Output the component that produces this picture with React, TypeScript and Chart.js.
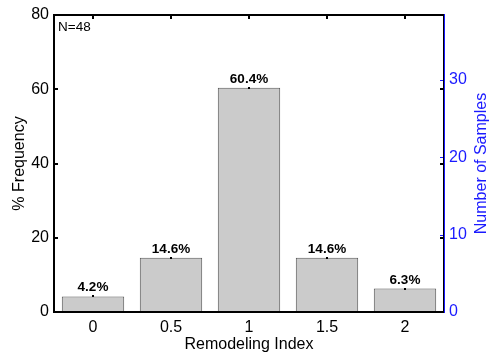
import React, { useEffect, useRef } from "react";
import { Chart, registerables } from "chart.js";

Chart.register(...registerables);

const categories = ["0", "0.5", "1", "1.5", "2"];
const percentValues = [4.2, 14.6, 60.4, 14.6, 6.3];
const barLabels = ["4.2%", "14.6%", "60.4%", "14.6%", "6.3%"];
const leftTicks = [0, 20, 40, 60, 80];
const rightTicks = [0, 10, 20, 30];
const rightMax = 38.4; // 80% of N=48
const sampleNote = "N=48";

const FONT = "Arial, 'Liberation Sans', sans-serif";
const BLUE = "#1a1aff";

const decorPlugin = {
  id: "decor",
  beforeDatasetsDraw(chart: any) {
    const { ctx, chartArea } = chart;
    const x = chart.scales.x;
    ctx.save();
    ctx.strokeStyle = "#000";
    ctx.lineWidth = 1;
    categories.forEach((_, i) => {
      const px = Math.round(x.getPixelForValue(i)) + 0.5;
      ctx.beginPath();
      ctx.moveTo(px, chartArea.bottom);
      ctx.lineTo(px, chartArea.bottom - 4);
      ctx.stroke();
    });
    ctx.restore();
  },
  afterDatasetsDraw(chart: any) {
    const { ctx, chartArea } = chart;
    const { left, right, top, bottom } = chartArea;
    const x = chart.scales.x;
    const y = chart.scales.y;
    const y2 = chart.scales.y2;
    ctx.save();
    // bar labels and center dots
    const meta = chart.getDatasetMeta(0);
    ctx.font = `bold 13.5px ${FONT}`;
    ctx.fillStyle = "#000";
    ctx.textAlign = "center";
    ctx.textBaseline = "bottom";
    meta.data.forEach((bar: any, i: number) => {
      ctx.fillRect(Math.round(bar.x) - 1, Math.round(bar.y) - 1, 2, 2);
      ctx.fillText(barLabels[i], bar.x, bar.y - 2);
    });
    // ticks
    ctx.lineWidth = 2;
    ctx.strokeStyle = "#000";
    leftTicks.forEach((v) => {
      const py = Math.round(y.getPixelForValue(v));
      ctx.beginPath();
      ctx.moveTo(left, py);
      ctx.lineTo(left + 4, py);
      ctx.moveTo(right, py);
      ctx.lineTo(right - 4, py);
      ctx.stroke();
    });
    categories.forEach((_, i) => {
      const px = Math.round(x.getPixelForValue(i));
      ctx.beginPath();
      ctx.moveTo(px, top);
      ctx.lineTo(px, top + 4);
      ctx.stroke();
    });
    ctx.strokeStyle = BLUE;
    ctx.lineWidth = 1;
    rightTicks.forEach((v) => {
      const py = Math.round(y2.getPixelForValue(v)) + 0.5;
      ctx.beginPath();
      ctx.moveTo(right, py);
      ctx.lineTo(right - 4, py);
      ctx.stroke();
    });
    // box
    ctx.strokeStyle = "#000";
    ctx.lineWidth = 2;
    ctx.beginPath();
    ctx.moveTo(right - 1, top);
    ctx.lineTo(left, top);
    ctx.lineTo(left, bottom);
    ctx.lineTo(right - 1, bottom);
    ctx.stroke();
    ctx.lineWidth = 1;
    ctx.beginPath();
    ctx.moveTo(right - 0.5, top - 1);
    ctx.lineTo(right - 0.5, bottom + 1);
    ctx.stroke();
    ctx.strokeStyle = BLUE;
    ctx.beginPath();
    ctx.moveTo(right + 0.5, top - 1);
    ctx.lineTo(right + 0.5, bottom + 1);
    ctx.stroke();
    // N note
    ctx.font = `13.5px ${FONT}`;
    ctx.fillStyle = "#000";
    ctx.textAlign = "left";
    ctx.textBaseline = "middle";
    ctx.fillText(sampleNote, left + 4, top + 12);
    // right title
    ctx.font = `16px ${FONT}`;
    ctx.fillStyle = BLUE;
    ctx.textAlign = "center";
    ctx.translate(482, (top + bottom) / 2);
    ctx.rotate(-Math.PI / 2);
    ctx.fillText("Number of Samples", 0, 0);
    ctx.restore();
  },
};

export default function App() {
  const ref = useRef<HTMLCanvasElement>(null);
  useEffect(() => {
    document.body.style.margin = "0";
    const chart = new Chart(ref.current!, {
      type: "bar",
      data: {
        labels: categories,
        datasets: [
          {
            data: percentValues,
            yAxisID: "y",
            backgroundColor: "#cbcbcb",
            borderColor: "#555555",
            borderWidth: 1,
            barPercentage: 0.8,
            categoryPercentage: 1,
          },
        ],
      },
      options: {
        responsive: false,
        animation: false,
        layout: { padding: { top: 15, left: 0, right: 0, bottom: 0 } },
        plugins: { legend: { display: false }, tooltip: { enabled: false } },
        scales: {
          x: {
            type: "category",
            offset: true,
            grid: { display: false, drawTicks: false },
            border: { display: false },
            ticks: { font: { family: FONT, size: 16 }, color: "#000", padding: 6 },
            title: {
              display: true,
              text: "Remodeling Index",
              font: { family: FONT, size: 16 },
              color: "#000",
              padding: { top: 0, bottom: 0 },
            },
            afterFit: (s: any) => {
              s.height = 42;
            },
          },
          y: {
            position: "left",
            min: 0,
            max: 80,
            ticks: { stepSize: 20, font: { family: FONT, size: 16 }, color: "#000", padding: 5 },
            grid: { display: false, drawTicks: false },
            border: { display: false },
            title: {
              display: true,
              text: "% Frequency",
              font: { family: FONT, size: 16 },
              color: "#000",
              padding: { top: 10, bottom: 0 },
            },
            afterFit: (s: any) => {
              s.width = 54;
            },
          },
          y2: {
            position: "right",
            display: true,
            min: 0,
            max: rightMax,
            ticks: {
              stepSize: 10,
              includeBounds: false,
              font: { family: FONT, size: 16 },
              color: BLUE,
              padding: 5,
            },
            grid: { display: false, drawTicks: false },
            border: { display: false },
            afterFit: (s: any) => {
              s.width = 47;
            },
          },
        },
      },
      plugins: [decorPlugin],
    } as any);
    return () => chart.destroy();
  }, []);
  return (
    <div style={{ position: "fixed", left: 0, top: 0, width: 491, height: 354 }}>
      <canvas ref={ref} width={491} height={354} style={{ display: "block" }} />
    </div>
  );
}
